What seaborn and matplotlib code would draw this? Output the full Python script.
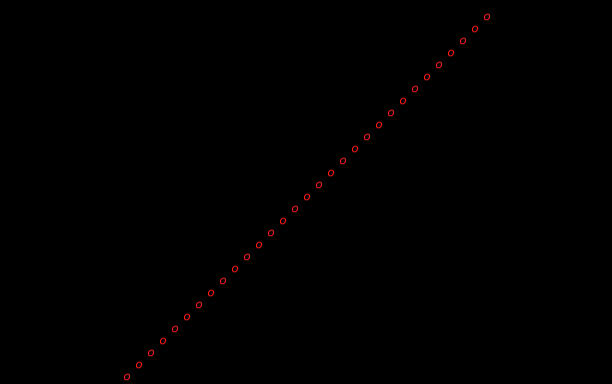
import matplotlib
matplotlib.use("Agg")
import matplotlib.pyplot as plt
import seaborn as sns
import pandas as pd

x_values = list(range(31))
y_values = list(range(31))

df = pd.DataFrame({"x": x_values, "y": y_values})

fig = plt.figure(figsize=(6.12, 3.84), dpi=100, facecolor="black")
ax = fig.add_axes([0, 0, 1, 1])
ax.set_facecolor("black")
sns.scatterplot(data=df, x="x", y="y", ax=ax, marker="$o$", s=24,
                color="#ff1a1a", edgecolor="none", linewidth=0, legend=False)
ax.set_xlim(-127 / 12, (612 - 127) / 12)
ax.set_ylim(-7 / 12, (384 - 7) / 12)
ax.axis("off")
fig.savefig("out.png", dpi=100, facecolor="black")
